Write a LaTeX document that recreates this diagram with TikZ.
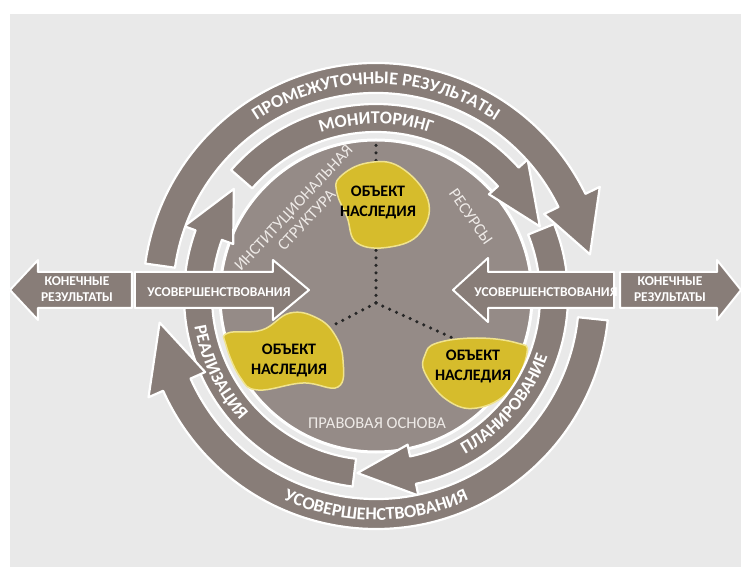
\documentclass[tikz,border=0pt]{standalone}
\usepackage{fontspec}
\setmainfont{Carlito}
\usetikzlibrary{decorations.text}

\definecolor{paper}{HTML}{E9E9E9}
\definecolor{bandgray}{HTML}{887D78}
\definecolor{coregray}{HTML}{958B87}
\definecolor{blobyellow}{HTML}{D6BC2C}
\definecolor{blobrim}{HTML}{F0E38E}
\definecolor{softwhite}{HTML}{EEEAE7}

\newcommand{\ringfont}{\fontsize{18}{22}\selectfont\bfseries}

% ring arrow: start, head base, tip, mid radius, half width, head half width
\newcommand{\ringarrow}[6]{%
  \filldraw[ringband] ({#1}:{#4+#5}) arc[start angle=#1, end angle=#2, radius=#4+#5]
    -- ({#2}:{#4+#6}) -- ({#3}:{#4}) -- ({#2}:{#4-#6}) -- ({#2}:{#4-#5})
    arc[start angle=#2, end angle=#1, radius=#4-#5] -- cycle;}

\begin{document}
\begin{tikzpicture}[x=1pt, y=1pt,
    ringband/.style={fill=bandgray, draw=white, line width=2.2pt, line join=round},
    flatarrow/.style={fill=bandgray, draw=white, line width=2pt, line join=round},
    blob/.style={fill=blobyellow, draw=blobrim, line width=1.5pt},
    objlabel/.style={align=center, text=black, font=\fontsize{16}{20}\selectfont\bfseries},
    arrowlabel/.style={align=center, text=white, font=\fontsize{13.5}{16}\selectfont\bfseries},
    corelabel/.style={align=center, text=softwhite, font=\fontsize{16.5}{18}\selectfont},
    linkdots/.style={draw=black!85, line width=3.5pt, line cap=round, dash pattern=on 0pt off 7.5pt},
    ringtext/.style={decorate, decoration={text along path, text align=center,
        text color=white, text={|\ringfont|#1}}}
  ]
  % frame
  \useasboundingbox (-376,-271) rectangle (365,296);
  \fill[white] (-376,-271) rectangle (365,296);
  \fill[paper] (-366,-271) rectangle (365,282);

  % core
  \node[circle, minimum size=312pt, fill=coregray, draw=white, line width=3pt] (core) at (0,0) {};

  % dotted links
  \coordinate (hub) at (0,-7);
  \coordinate (linktop) at (0,155);
  \coordinate (linkleft) at (-46,-31);
  \coordinate (linkright) at (81,-44);
  \draw[linkdots] (hub) -- (linktop);
  \draw[linkdots] (hub) -- (linkleft);
  \draw[linkdots] (hub) -- (linkright);

  % heritage objects
  \draw[blob] plot[smooth cycle, tension=0.7] coordinates
    {(-36,119) (-9,133) (24,129) (52,96) (44,63) (14,49) (-19,53) (-29,79) (-39,103)};
  \node[objlabel] (objtop) at (2,94) {ОБЪЕКТ\\НАСЛЕДИЯ};
  \draw[blob] plot[smooth cycle, tension=0.7] coordinates
    {(-86,-17) (-59,-22) (-41,-39) (-33,-64) (-38,-91) (-73,-87) (-118,-94) (-136,-81) (-150,-49) (-148,-37) (-114,-34)};
  \node[objlabel] (objleft) at (-87,-64) {ОБЪЕКТ\\НАСЛЕДИЯ};
  \draw[blob] plot[smooth cycle, tension=0.7] coordinates
    {(61,-47) (101,-42) (141,-47) (151,-57) (134,-94) (101,-112) (71,-104) (49,-77) (49,-59)};
  \node[objlabel] (objright) at (97,-70) {ОБЪЕКТ\\НАСЛЕДИЯ};

  % core labels
  \node[corelabel, rotate=47] (institut) at (-76,82) {ИНСТИТУЦИОНАЛЬНАЯ\\СТРУКТУРА};
  \node[corelabel, rotate=-55] (resources) at (95,79) {РЕСУРСЫ};
  \node[corelabel] (legal) at (1,-127) {ПРАВОВАЯ ОСНОВА};

  % inner ring
  \ringarrow{263}{160}{143}{178}{14}{26}
  \path[ringtext=РЕАЛИЗАЦИЯ] (176:184) arc[start angle=176, end angle=236, radius=184];
  \ringarrow{22}{-78}{-96}{178}{14}{26}
  \path[ringtext=ПЛАНИРОВАНИЕ] (-80:182) arc[start angle=-80, end angle=0, radius=182];
  \ringarrow{139}{42}{23}{178}{14}{26}
  \path[ringtext=МОНИТОРИНГ] (150:172) arc[start angle=150, end angle=30, radius=172];

  % outer ring
  \ringarrow{172}{26}{11}{218}{15}{31}
  \path[ringtext=ПРОМЕЖУТОЧНЫЕ РЕЗУЛЬТАТЫ] (150:212) arc[start angle=150, end angle=30, radius=212];
  \ringarrow{-6}{-156}{-173}{218}{15}{31}
  \path[ringtext=УСОВЕРШЕНСТВОВАНИЯ] (220:224) arc[start angle=220, end angle=320, radius=224];

  % horizontal arrows
  \filldraw[flatarrow] (-244,24) -- (-338,24) -- (-338,36) -- (-366,6) -- (-338,-24) -- (-338,-12) -- (-244,-12) -- cycle;
  \node[arrowlabel] (finalleft) at (-299,7) {КОНЕЧНЫЕ\\РЕЗУЛЬТАТЫ};
  \filldraw[flatarrow] (-241,24) -- (-103,24) -- (-103,36) -- (-67,6) -- (-103,-24) -- (-103,-12) -- (-241,-12) -- cycle;
  \node[arrowlabel] (improveleft) at (-157,4) {УСОВЕРШЕНСТВОВАНИЯ};
  \filldraw[flatarrow] (238,24) -- (112,24) -- (112,38) -- (77,6) -- (112,-26) -- (112,-12) -- (238,-12) -- cycle;
  \node[arrowlabel] (improveright) at (170,4) {УСОВЕРШЕНСТВОВАНИЯ};
  \filldraw[flatarrow] (244,24) -- (341,24) -- (341,36) -- (365,6) -- (341,-24) -- (341,-12) -- (244,-12) -- cycle;
  \node[arrowlabel] (finalright) at (294,7) {КОНЕЧНЫЕ\\РЕЗУЛЬТАТЫ};
\end{tikzpicture}
\end{document}
